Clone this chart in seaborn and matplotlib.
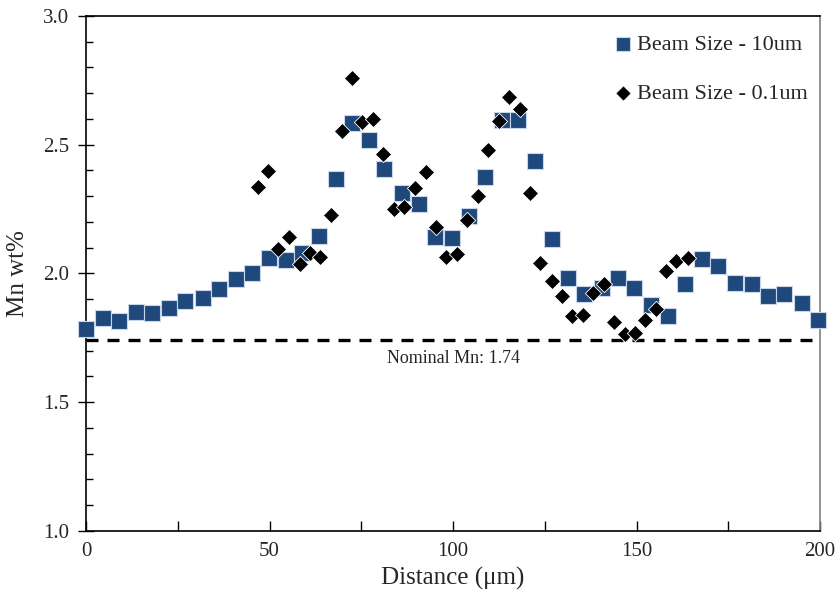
import matplotlib
matplotlib.use("Agg")
import matplotlib.pyplot as plt
from matplotlib.ticker import MultipleLocator, FormatStrFormatter
import seaborn as sns
import pandas as pd

# Mn line profile, 10 um beam
dist_10um = [0.0, 4.6, 8.9, 13.7, 18.1, 22.6, 27.1, 31.8, 36.3, 40.8, 45.1, 49.8,
             54.4, 58.8, 63.4, 68.1, 72.6, 77.0, 81.2, 86.2, 90.7, 95.2, 99.6, 104.3,
             108.8, 113.3, 117.7, 122.3, 126.9, 131.4, 135.8, 140.6, 145.0, 149.4,
             153.9, 158.6, 163.2, 167.8, 172.1, 176.8, 181.4, 185.7, 190.2, 195.0, 199.4]
mn_10um = [1.784, 1.828, 1.816, 1.852, 1.847, 1.867, 1.894, 1.906, 1.941, 1.977, 2.001, 2.059,
           2.052, 2.078, 2.147, 2.366, 2.586, 2.518, 2.405, 2.311, 2.269, 2.143, 2.139, 2.224,
           2.375, 2.596, 2.596, 2.437, 2.134, 1.984, 1.919, 1.945, 1.984, 1.945,
           1.878, 1.836, 1.958, 2.055, 2.029, 1.964, 1.959, 1.914, 1.919, 1.884, 1.819]

# Mn line profile, 0.1 um beam
dist_01um = [46.8, 49.7, 52.4, 55.2, 58.3, 61.0, 63.8, 66.7, 69.7, 72.6, 75.2, 78.1,
             81.0, 83.9, 86.7, 89.6, 92.6, 95.4, 98.1, 101.0, 103.9, 106.7, 109.6, 112.4,
             115.3, 118.3, 121.0, 123.6, 126.9, 129.7, 132.5, 135.3, 138.1, 141.1, 144.0,
             146.9, 149.6, 152.4, 155.2, 158.0, 160.8, 163.9]
mn_01um = [2.335, 2.398, 2.095, 2.143, 2.036, 2.078, 2.065, 2.227, 2.555, 2.758, 2.590, 2.600,
           2.464, 2.252, 2.259, 2.331, 2.393, 2.182, 2.065, 2.075, 2.208, 2.302, 2.480, 2.593,
           2.684, 2.638, 2.314, 2.040, 1.972, 1.914, 1.835, 1.839, 1.923, 1.959, 1.810,
           1.765, 1.768, 1.819, 1.861, 2.010, 2.050, 2.059]

nominal_mn = 1.74
series_labels = ["Beam Size - 10um", "Beam Size - 0.1um"]

df10 = pd.DataFrame({"Distance": dist_10um, "Mn": mn_10um})
df01 = pd.DataFrame({"Distance": dist_01um, "Mn": mn_01um})

sns.set_theme(style="white")
plt.rcParams["font.family"] = ["Liberation Serif", "DejaVu Serif"]

fig = plt.figure(figsize=(8.4, 6.03), dpi=100)
ax = fig.add_axes([0.1024, 0.1194, 0.8738, 0.8541])

sns.scatterplot(data=df10, x="Distance", y="Mn", ax=ax, marker="s", s=125,
                color="#1F497D", edgecolor="#c9d6e8", linewidth=0.8,
                label=series_labels[0], zorder=3, clip_on=False)
sns.scatterplot(data=df01, x="Distance", y="Mn", ax=ax, marker="D", s=68,
                color="black", edgecolor="white", linewidth=0.6,
                label=series_labels[1], zorder=4, clip_on=False)

ax.axhline(nominal_mn, color="black", lw=2.4, ls=(0, (3.6, 2.7)), zorder=2)
ax.text(100, nominal_mn - 0.07, f"Nominal Mn: {nominal_mn:.2f}", ha="center",
        va="center", fontsize=13)

ax.set_xlim(0, 200)
ax.set_ylim(1.0, 3.0)
ax.xaxis.set_major_locator(MultipleLocator(50))
ax.xaxis.set_minor_locator(MultipleLocator(25))
ax.yaxis.set_major_locator(MultipleLocator(0.5))
ax.yaxis.set_minor_locator(MultipleLocator(0.1))
ax.yaxis.set_major_formatter(FormatStrFormatter("%.1f"))

ax.tick_params(axis="x", which="both", direction="in", length=7, width=1,
               labelsize=15, pad=8, color="black")
ax.tick_params(axis="y", which="major", direction="inout", length=12, width=1,
               labelsize=15, pad=6, color="black")
ax.tick_params(axis="y", which="minor", direction="in", length=5, width=1, color="black")
ax.tick_params(which="both", bottom=True, left=True, top=False, right=False)

for side in ["left", "bottom", "top"]:
    ax.spines[side].set_color("black")
    ax.spines[side].set_linewidth(1.2)
ax.spines["right"].set_color("#808080")
ax.spines["right"].set_linewidth(1.2)

ax.set_xlabel("Distance (μm)", fontsize=18, labelpad=4)
ax.set_ylabel("Mn wt%", fontsize=18, labelpad=10)

leg = ax.legend(loc="upper right", bbox_to_anchor=(0.995, 0.981), frameon=False,
                fontsize=16, handletextpad=0.1, labelspacing=1.25,
                borderaxespad=0.0, handlelength=1.0, markerscale=0.95)

fig.savefig("out.png", dpi=100)
